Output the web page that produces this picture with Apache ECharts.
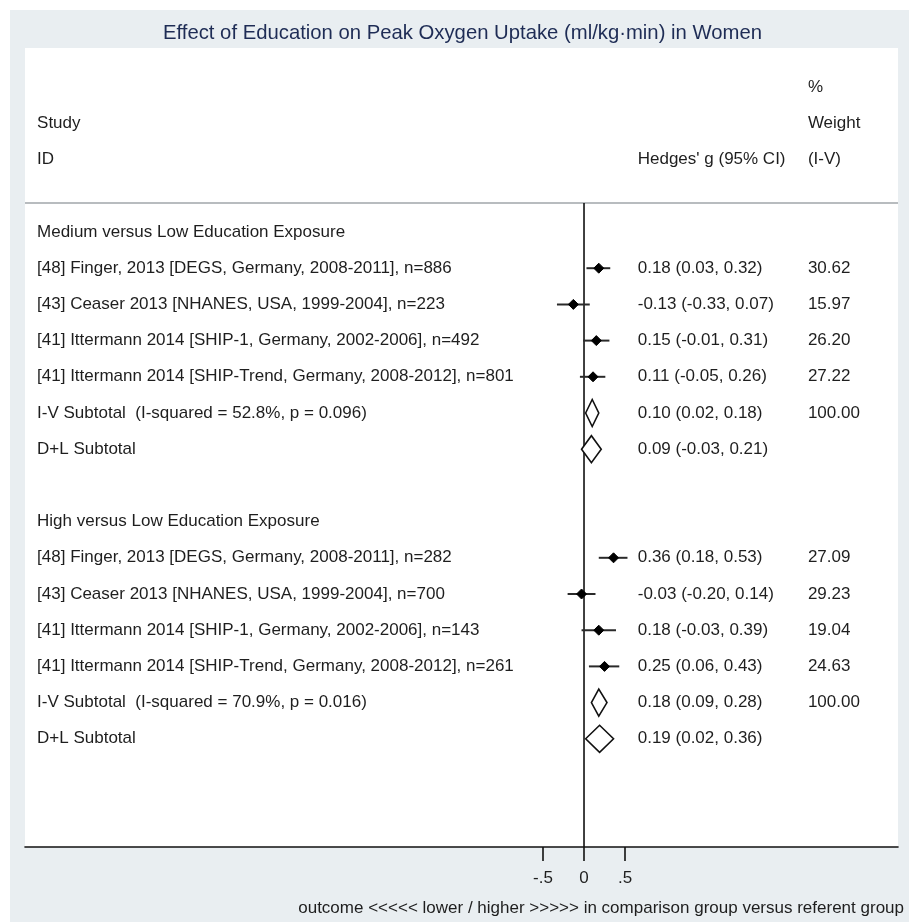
<!DOCTYPE html>
<html><head><meta charset="utf-8">
<script src="https://cdn.jsdelivr.net/npm/echarts@6/dist/echarts.min.js"></script>
<style>html,body{margin:0;padding:0;background:#fff}#c{width:909px;height:922px}</style>
</head><body><div id="c"></div>
<script>
// ---------- data ----------
const chartTitle = 'Effect of Education on Peak Oxygen Uptake (ml/kg\u00b7min) in Women';
const xAxisTitle = 'outcome <<<<< lower / higher >>>>> in comparison group versus referent group';
const headerId = ['', 'Study', 'ID'];
const headerCI = ['', '', "Hedges' g (95% CI)"];
const headerWeight = ['%', 'Weight', '(I-V)'];
const rowLabels = [
  'Medium versus Low Education Exposure',
  '[48] Finger, 2013 [DEGS, Germany, 2008-2011], n=886',
  '[43] Ceaser 2013 [NHANES, USA, 1999-2004], n=223',
  '[41] Ittermann 2014 [SHIP-1, Germany, 2002-2006], n=492',
  '[41] Ittermann 2014 [SHIP-Trend, Germany, 2008-2012], n=801',
  'I-V Subtotal  (I-squared = 52.8%, p = 0.096)',
  'D+L Subtotal',
  '',
  'High versus Low Education Exposure',
  '[48] Finger, 2013 [DEGS, Germany, 2008-2011], n=282',
  '[43] Ceaser 2013 [NHANES, USA, 1999-2004], n=700',
  '[41] Ittermann 2014 [SHIP-1, Germany, 2002-2006], n=143',
  '[41] Ittermann 2014 [SHIP-Trend, Germany, 2008-2012], n=261',
  'I-V Subtotal  (I-squared = 70.9%, p = 0.016)',
  'D+L Subtotal'
];
const rowKind = ['head','study','study','study','study','pooled','pooled','blank','head','study','study','study','study','pooled','pooled'];
const effect = [null, 0.18, -0.13, 0.15, 0.11, 0.10, 0.09, null, null, 0.36, -0.03, 0.18, 0.25, 0.18, 0.19];
const ciLow  = [null, 0.03, -0.33, -0.01, -0.05, 0.02, -0.03, null, null, 0.18, -0.20, -0.03, 0.06, 0.09, 0.02];
const ciHigh = [null, 0.32, 0.07, 0.31, 0.26, 0.18, 0.21, null, null, 0.53, 0.14, 0.39, 0.43, 0.28, 0.36];
const weights = ['', '30.62', '15.97', '26.20', '27.22', '100.00', '', '', '', '27.09', '29.23', '19.04', '24.63', '100.00', ''];
const xTicks = [-0.5, 0, 0.5];
const xTickLabels = ['-.5', '0', '.5'];

// ---------- layout constants (axis units) ----------
const X_MIN = -6.817, X_MAX = 3.829;
const Y_MIN = -5.083, Y_MAX = 16.989;
const COL_ID = -6.67, COL_CI = 0.655, COL_W = 2.73;
const SEP_ROW = -0.8;
const FAMILY = '"Liberation Sans", Arial, Helvetica, sans-serif';
const FONT = '17px ' + FAMILY;
const TXT = '#1e1e1e';

const fmt = v => v.toFixed(2);
const ciText = i => effect[i] == null ? '' : fmt(effect[i]) + ' (' + fmt(ciLow[i]) + ', ' + fmt(ciHigh[i]) + ')';

// text rows: header rows at -4..-2, then body rows 0..14
const textRows = [];
headerId.forEach((t, k) => textRows.push({row: k - 4, id: t, ci: headerCI[k], w: headerWeight[k]}));
rowLabels.forEach((t, i) => textRows.push({row: i, id: t, ci: ciText(i), w: weights[i]}));

const studyData = [], pooledData = [];
rowKind.forEach((k, i) => {
  if (k === 'study') studyData.push([effect[i], i, ciLow[i], ciHigh[i]]);
  if (k === 'pooled') pooledData.push([effect[i], i, ciLow[i], ciHigh[i]]);
});

function txt(x, y, s) {
  return {type: 'text', x: x, y: y, style: {text: s, fill: TXT, font: FONT, align: 'left', verticalAlign: 'middle'}};
}

const chart = echarts.init(document.getElementById('c'), null, {renderer: 'canvas'});
chart.setOption({
  animation: false,
  backgroundColor: '#ffffff',
  graphic: [{type: 'rect', left: 10, top: 10, z: -100, shape: {width: 899, height: 912}, style: {fill: '#e9eef1'}}],
  title: [
    {text: chartTitle, left: 158, top: 18,
     textStyle: {fontSize: 20.3, fontWeight: 'normal', color: '#1e2c55', fontFamily: FAMILY}},
    {text: xAxisTitle, right: 0, top: 895,
     textStyle: {fontSize: 17, fontWeight: 'normal', color: TXT, fontFamily: FAMILY}}
  ],
  grid: {left: 25, right: 11, top: 48, bottom: 75, show: true, backgroundColor: '#ffffff', borderWidth: 0},
  xAxis: {
    type: 'value', min: X_MIN, max: X_MAX,
    splitLine: {show: false},
    axisLine: {onZero: false, lineStyle: {color: '#111', width: 1.6}},
    axisTick: {customValues: xTicks, length: 14, lineStyle: {color: '#111', width: 1.6}},
    axisLabel: {customValues: xTicks, margin: 23, fontSize: 17, color: TXT, fontFamily: FAMILY,
      formatter: v => { const k = xTicks.findIndex(t => Math.abs(t - v) < 1e-9); return k >= 0 ? xTickLabels[k] : ''; }}
  },
  yAxis: {type: 'value', inverse: true, min: Y_MIN, max: Y_MAX, show: false},
  series: [
    { // separator + null line
      type: 'custom', clip: false, silent: true, data: [[0, SEP_ROW]],
      renderItem: (p, api) => {
        const a = api.coord([X_MIN, SEP_ROW]), b = api.coord([X_MAX, SEP_ROW]);
        const z0 = api.coord([0, SEP_ROW]), z1 = api.coord([0, Y_MAX]);
        return {type: 'group', children: [
          {type: 'line', shape: {x1: a[0], y1: a[1], x2: b[0], y2: b[1]}, style: {stroke: '#b8bcbf', lineWidth: 2}},
          {type: 'line', shape: {x1: z0[0], y1: z0[1], x2: z1[0], y2: z1[1]}, style: {stroke: '#111', lineWidth: 1.6}}
        ]};
      }
    },
    { // texts
      type: 'custom', clip: false, silent: true,
      data: textRows.map(r => [COL_ID, r.row]),
      renderItem: (p, api) => {
        const r = textRows[p.dataIndex];
        const a = api.coord([COL_ID, r.row]), b = api.coord([COL_CI, r.row]), c = api.coord([COL_W, r.row]);
        return {type: 'group', children: [txt(a[0], a[1], r.id), txt(b[0], b[1], r.ci), txt(c[0], c[1], r.w)]};
      }
    },
    { // study estimates with CI
      type: 'custom', clip: false, silent: true, data: studyData,
      renderItem: (p, api) => {
        const m = api.coord([api.value(0), api.value(1)]);
        const l = api.coord([api.value(2), api.value(1)]);
        const h = api.coord([api.value(3), api.value(1)]);
        const s = 5;
        return {type: 'group', children: [
          {type: 'line', shape: {x1: l[0], y1: l[1], x2: h[0], y2: h[1]}, style: {stroke: '#2a2a2a', lineWidth: 2}},
          {type: 'polygon', shape: {points: [[m[0] - s, m[1]], [m[0], m[1] - s], [m[0] + s, m[1]], [m[0], m[1] + s]]}, style: {fill: '#000', stroke: '#000', lineWidth: 1, lineJoin: 'round'}}
        ]};
      }
    },
    { // pooled diamonds
      type: 'custom', clip: false, silent: true, data: pooledData,
      renderItem: (p, api) => {
        const m = api.coord([api.value(0), api.value(1)]);
        const l = api.coord([api.value(2), api.value(1)]);
        const h = api.coord([api.value(3), api.value(1)]);
        const hh = 13.5;
        return {type: 'polygon', shape: {points: [[l[0], l[1]], [m[0], m[1] - hh], [h[0], h[1]], [m[0], m[1] + hh]]},
          style: {fill: '#fff', stroke: '#111', lineWidth: 1.6}};
      }
    }
  ]
});
</script></body></html>
